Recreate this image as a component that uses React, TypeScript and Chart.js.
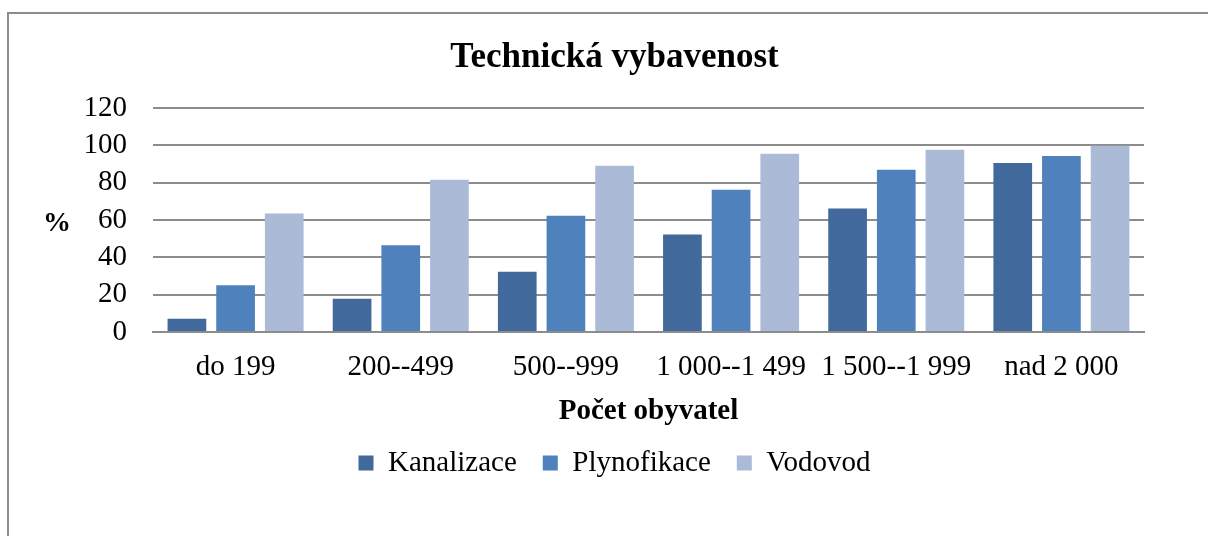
import React, { useEffect, useRef } from "react";
import { Chart, registerables } from "chart.js";

Chart.register(...registerables);

const categories = ["do 199", "200--499", "500--999", "1 000--1 499", "1 500--1 999", "nad 2 000"];
const kanalizace = [7, 17.7, 32.3, 52.2, 66.1, 90.5];
const plynofikace = [25, 46.5, 62.2, 76.2, 86.9, 94.3];
const vodovod = [63.4, 81.6, 89, 95.5, 97.6, 99.8];
const seriesNames = ["Kanalizace", "Plynofikace", "Vodovod"];
const seriesColors = ["#41699b", "#4f81bd", "#abbad7"];
const yMin = 0;
const yMax = 120;
const yStep = 20;

const FONT = "'Liberation Serif', 'Times New Roman', serif";

const yTitlePlugin = {
  id: "yTitlePercent",
  afterDraw(chart: any) {
    const ctx = chart.ctx;
    ctx.save();
    ctx.font = `bold 28px ${FONT}`;
    ctx.fillStyle = "#000";
    ctx.textAlign = "center";
    ctx.textBaseline = "middle";
    ctx.fillText("%", 57, 224);
    ctx.restore();
  },
};

export default function App() {
  const ref = useRef<HTMLCanvasElement | null>(null);

  useEffect(() => {
    if (!ref.current) return;
    const chart = new Chart(ref.current, {
      type: "bar",
      data: {
        labels: categories,
        datasets: [kanalizace, plynofikace, vodovod].map((d, i) => ({
          label: seriesNames[i],
          data: d,
          backgroundColor: seriesColors[i],
          borderWidth: 0,
          categoryPercentage: 0.884,
          barPercentage: 0.795,
        })),
      },
      options: {
        responsive: false,
        animation: false,
        layout: { padding: { left: 85, right: 64, top: 0, bottom: 48.5 } },
        scales: {
          x: {
            grid: { display: false, drawTicks: false },
            border: { display: true, color: "#8c8c8c", width: 2 },
            ticks: { color: "#000", font: { family: FONT, size: 29 }, padding: 18, maxRotation: 0, autoSkip: false },
            title: {
              display: true,
              text: "Počet obyvatel",
              color: "#000",
              font: { family: FONT, size: 29, weight: "bold" },
              padding: { top: -9, bottom: -6 },
            },
          },
          y: {
            min: yMin,
            max: yMax,
            afterFit: (axis: any) => {
              axis.width = 68;
            },
            grid: { color: "#8c8c8c", lineWidth: 2, drawTicks: false },
            border: { display: false },
            ticks: { color: "#000", font: { family: FONT, size: 29 }, padding: 26, stepSize: yStep, autoSkip: false },
          },
        },
        plugins: {
          title: {
            display: true,
            text: "Technická vybavenost",
            color: "#000",
            font: { family: FONT, size: 35, weight: "bold" },
            padding: { top: 37, bottom: 29 },
          },
          legend: {
            position: "bottom",
            labels: {
              color: "#000",
              font: { family: FONT, size: 29 },
              boxWidth: 15,
              boxHeight: 15,
              padding: 26,
            },
          },
          tooltip: { enabled: false },
        },
      },
      plugins: [yTitlePlugin],
    } as any);
    return () => chart.destroy();
  }, []);

  return (
    <div style={{ position: "fixed", left: 0, top: 0, width: 1208, height: 536, overflow: "hidden", background: "#fff" }}>
      <div
        style={{
          position: "absolute",
          left: 7,
          top: 12,
          width: 1400,
          height: 700,
          border: "2px solid #8c8c8c",
          boxSizing: "border-box",
        }}
      />
      <canvas ref={ref} width={1208} height={536} style={{ position: "absolute", left: 0, top: 0 }} />
    </div>
  );
}
